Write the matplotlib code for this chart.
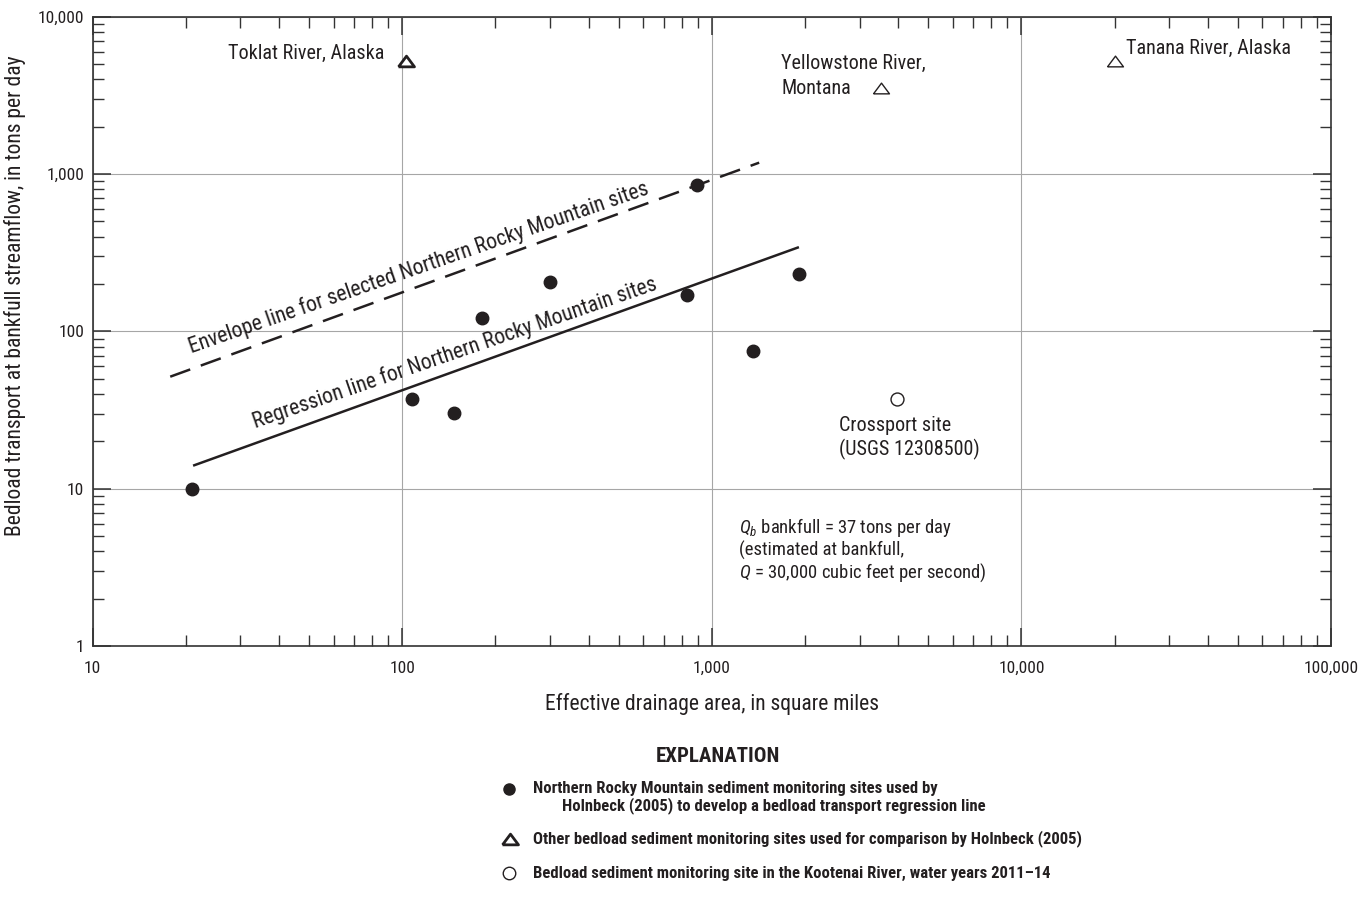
import numpy as np
import matplotlib
matplotlib.use("Agg")
import matplotlib.pyplot as plt
from matplotlib import font_manager as fm
from matplotlib.ticker import LogLocator, FuncFormatter, NullFormatter

# pick the narrowest sans family available
_fonts = {(f.name, f.stretch) for f in fm.fontManager.ttflist}
_names = {n for n, _ in _fonts}
FAM, STRETCH = 'Roboto', 'normal'
for cand in ['Liberation Sans Narrow', 'Arial Narrow', 'Roboto Condensed', 'Open Sans Condensed']:
    if cand in _names:
        FAM = cand
        break
else:
    for n, s in _fonts:
        if n in ('DejaVu Sans', 'Roboto', 'Open Sans', 'Noto Sans') and s in ('condensed', 'semi-condensed', 'extra-condensed'):
            FAM, STRETCH = n, s
            break

plt.rcParams['font.family'] = [FAM, 'DejaVu Sans']
plt.rcParams['font.stretch'] = STRETCH
plt.rcParams['mathtext.fontset'] = 'custom'
_st = '' if STRETCH == 'normal' else ':' + STRETCH
plt.rcParams['mathtext.rm'] = FAM + _st
plt.rcParams['mathtext.it'] = FAM + ':italic' + _st

INK = '#231f20'

# Northern Rocky Mountain sediment monitoring sites (Holnbeck, 2005)
nrm_area = [20.9, 107.5, 147, 180.5, 300, 829, 895, 1360, 1911]
nrm_load = [10, 37.2, 30.1, 121, 207, 170, 857, 75.4, 231]

# Other bedload sites used for comparison
cmp_names = ["Toklat River, Alaska", "Yellowstone River,\nMontana", "Tanana River, Alaska"]
cmp_area = [103, 3530, 20000]
cmp_load = [5210, 3540, 5240]

# Kootenai River at Crossport (USGS 12308500)
kr_area = [3950]
kr_load = [37]

# Regression and envelope lines (end points)
reg_area = [21.1, 1911]
reg_load = [14.0, 343]
env_area = [17.8, 1422]
env_load = [51.5, 1181]

fig = plt.figure(figsize=(13.67, 9.11), dpi=100)
W, H = 1367, 911
ax = fig.add_axes([92.7 / W, 1 - 646 / H, (1331 - 92.7) / W, (646 - 16.7) / H])
ax.set_xscale('log')
ax.set_yscale('log')
ax.set_xlim(10, 100000)
ax.set_ylim(1, 10000)

comma = FuncFormatter(lambda v, p: f"{int(round(v)):,}")
for axis in (ax.xaxis, ax.yaxis):
    axis.set_major_locator(LogLocator(base=10))
    axis.set_minor_locator(LogLocator(base=10, subs=np.arange(2, 10)))
    axis.set_major_formatter(comma)
    axis.set_minor_formatter(NullFormatter())

ax.tick_params(which='both', direction='in', top=True, right=True,
               color='#333333', labelsize=12.5, labelcolor=INK)
ax.tick_params(which='major', length=13, width=1.1)
ax.tick_params(which='minor', length=8, width=1.0)
ax.tick_params(axis='x', which='major', pad=11)
ax.tick_params(axis='y', which='major', pad=6)
for s in ax.spines.values():
    s.set_color('#333333')
    s.set_linewidth(1.2)
ax.grid(True, which='major', color='#a6a6a6', linewidth=0.8)
ax.set_axisbelow(True)

# lines
ax.plot(reg_area, reg_load, color=INK, lw=1.8, solid_capstyle='butt', zorder=3)
ax.plot(env_area, env_load, color=INK, lw=1.8, dashes=(8.5, 4.5), zorder=3)

# points
ax.plot(nrm_area, nrm_load, linestyle='none', marker='o', ms=9, color=INK, zorder=4)
tri = [(-1, -0.67), (1, -0.67), (0, 0.67), (-1, -0.67)]
tri_lw = [2.0, 1.0, 1.0]
for xa, ya, lw in zip(cmp_area, cmp_load, tri_lw):
    ax.plot([xa], [ya], linestyle='none', marker=tri, ms=11.5, mfc='white',
            mec=INK, mew=lw, zorder=4)
ax.plot(kr_area, kr_load, linestyle='none', marker='o', ms=9.3, mfc='white',
        mec=INK, mew=1.0, zorder=4)

# site labels
tfs = 14.5
px = 72 / 100  # pixels -> points
ax.annotate(cmp_names[0], (cmp_area[0], cmp_load[0]), xytext=(-22 * px, 8 * px),
            textcoords='offset points', ha='right', va='center', fontsize=tfs, color=INK)
ax.annotate(cmp_names[1], (cmp_area[1], cmp_load[1]), xytext=(-100 * px, -6 * px),
            textcoords='offset points', ha='left', va='baseline', fontsize=tfs,
            color=INK, linespacing=1.38)
ax.annotate(cmp_names[2], (cmp_area[2], cmp_load[2]), xytext=(11 * px, 12 * px),
            textcoords='offset points', ha='left', va='center', fontsize=tfs, color=INK)
ax.annotate("Crossport site\n(USGS 12308500)", (kr_area[0], kr_load[0]),
            xytext=(-58 * px, -17 * px), textcoords='offset points', ha='left',
            va='top', fontsize=tfs, color=INK, linespacing=1.2)
ax.text(1225, 6.75, "$\\mathit{Q}_{\\mathit{b}}$ bankfull = 37 tons per day\n(estimated at bankfull,\n"
        "$\\mathit{Q}$ = 30,000 cubic feet per second)", ha='left', va='top',
        fontsize=13.4, color=INK, linespacing=1.12)


def line_label(xs, ys, x_at, text, rise_px, tilt=0.0):
    lx, ly = np.log10(xs), np.log10(ys)
    y_at = 10 ** np.interp(np.log10(x_at), lx, ly)
    p0 = ax.transData.transform((xs[0], ys[0]))
    p1 = ax.transData.transform((xs[1], ys[1]))
    ang = np.degrees(np.arctan2(p1[1] - p0[1], p1[0] - p0[0])) + tilt
    ax.annotate(text, (x_at, y_at), xytext=(0, rise_px * px), textcoords='offset points',
                rotation=ang, rotation_mode='anchor', ha='center', va='baseline',
                fontsize=15.6, color=INK)


line_label(env_area, env_load, 115, "Envelope line for selected Northern Rocky Mountain sites", 12, -0.8)
line_label(reg_area, reg_load, 150, "Regression line for Northern Rocky Mountain sites", 12, -0.8)

ax.set_xlabel("Effective drainage area, in square miles", fontsize=15.5, color=INK)
ax.xaxis.set_label_coords(0.5, (646 - 693) / (646 - 16.7))
ax.set_ylabel("Bedload transport at bankfull streamflow, in tons per day", fontsize=15.5, color=INK)
ax.yaxis.set_label_coords((26 - 92.7) / (1331 - 92.7), (646 - 295.5) / (646 - 16.7))

# explanation block
lax = fig.add_axes([0, 0, 1, 1])
lax.set_xlim(0, W)
lax.set_ylim(H, 0)
lax.axis('off')
lax.text(718, 757, "EXPLANATION", ha='center', va='center', fontsize=15,
         fontweight='bold', color=INK)
lfs = 12
lax.plot([509], [789], marker='o', ms=8, color=INK, linestyle='none')
lax.text(533, 789, "Northern Rocky Mountain sediment monitoring sites used by",
         ha='left', va='center', fontsize=lfs, fontweight='bold', color=INK)
lax.text(562, 806, "Holnbeck (2005) to develop a bedload transport regression line",
         ha='left', va='center', fontsize=lfs, fontweight='bold', color=INK)
lax.plot([510], [839], marker=tri, ms=11.5, mfc='white', mec=INK, mew=2.0, linestyle='none')
lax.text(533, 839, "Other bedload sediment monitoring sites used for comparison by Holnbeck (2005)",
         ha='left', va='center', fontsize=lfs, fontweight='bold', color=INK)
lax.plot([509], [873], marker='o', ms=9, mfc='white', mec=INK, mew=1.0, linestyle='none')
lax.text(533, 873, "Bedload sediment monitoring site in the Kootenai River, water years 2011\u201314",
         ha='left', va='center', fontsize=lfs, fontweight='bold', color=INK)

fig.savefig("out.png", dpi=100)
